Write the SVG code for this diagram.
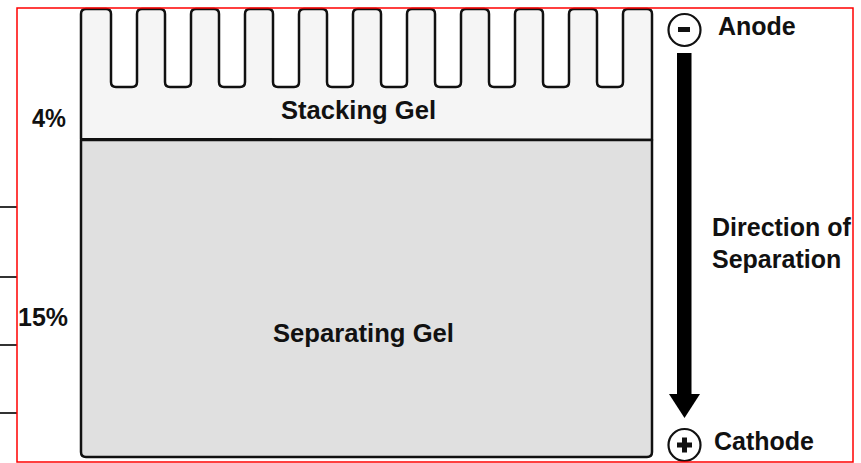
<svg xmlns="http://www.w3.org/2000/svg" width="861" height="463" viewBox="0 0 861 463">
  <style>
    .lbl { font-family: "Liberation Sans", Arial, sans-serif; font-weight: bold; font-size: 25px; fill: #111; }
    .gel { stroke: #111; stroke-width: 2.5; stroke-linejoin: round; }
    .tick { stroke: #333; stroke-width: 2; }
  </style>
  <rect x="0" y="0" width="861" height="463" fill="#fff"/>

  <g id="ticks">
    <line class="tick" x1="0" y1="207" x2="17" y2="207"/>
    <line class="tick" x1="0" y1="277" x2="17" y2="277"/>
    <line class="tick" x1="0" y1="345" x2="17" y2="345"/>
    <line class="tick" x1="0" y1="413" x2="17" y2="413"/>
  </g>

  <g id="stacking-gel">
    <path class="gel" fill="#f5f5f5" d="M81,139 V14 Q81,9 86,9
      H106 Q111,9 111,14 V82 Q111,87 116,87 H132 Q137,87 137,82 V14 Q137,9 142,9
      H160 Q165,9 165,14 V82 Q165,87 170,87 H186 Q191,87 191,82 V14 Q191,9 196,9
      H214 Q219,9 219,14 V82 Q219,87 224,87 H240 Q245,87 245,82 V14 Q245,9 250,9
      H268 Q273,9 273,14 V82 Q273,87 278,87 H294 Q299,87 299,82 V14 Q299,9 304,9
      H322 Q327,9 327,14 V82 Q327,87 332,87 H348 Q353,87 353,82 V14 Q353,9 358,9
      H376 Q381,9 381,14 V82 Q381,87 386,87 H402 Q407,87 407,82 V14 Q407,9 412,9
      H430 Q435,9 435,14 V82 Q435,87 440,87 H456 Q461,87 461,82 V14 Q461,9 466,9
      H484 Q489,9 489,14 V82 Q489,87 494,87 H510 Q515,87 515,82 V14 Q515,9 520,9
      H538 Q543,9 543,14 V82 Q543,87 548,87 H564 Q569,87 569,82 V14 Q569,9 574,9
      H592 Q597,9 597,14 V82 Q597,87 602,87 H618 Q623,87 623,82 V14 Q623,9 628,9
      H647 Q652,9 652,14 V140 Z"/>
    <text class="lbl" x="281" y="119" textLength="155" lengthAdjust="spacingAndGlyphs">Stacking Gel</text>
  </g>

  <g id="separating-gel">
    <path class="gel" fill="#e0e0e0" d="M81,140 H652 V452 Q652,457 647,457 H86 Q81,457 81,452 Z"/>
    <text class="lbl" x="273" y="342" textLength="181" lengthAdjust="spacingAndGlyphs">Separating Gel</text>
  </g>

  <g id="label-4">
    <text class="lbl" x="32" y="127" textLength="34" lengthAdjust="spacingAndGlyphs">4%</text>
  </g>
  <g id="label-15">
    <text class="lbl" x="18" y="326" textLength="50" lengthAdjust="spacingAndGlyphs">15%</text>
  </g>

  <g id="anode">
    <circle cx="684.5" cy="30" r="16" fill="#fff" stroke="#111" stroke-width="2.2"/>
    <rect x="678" y="27" width="12" height="5" fill="#111"/>
    <text class="lbl" x="718" y="35">Anode</text>
  </g>

  <g id="cathode">
    <circle cx="684.5" cy="445" r="16" fill="#fff" stroke="#111" stroke-width="2.2"/>
    <rect x="677" y="442.5" width="15" height="5" fill="#111"/>
    <rect x="682" y="437.5" width="5" height="15" fill="#111"/>
    <text class="lbl" x="714" y="450">Cathode</text>
  </g>

  <g id="connectors">
    <rect x="677" y="53" width="14.5" height="343" fill="#000"/>
    <polygon points="669,394 700,394 684.5,418" fill="#000"/>
  </g>

  <g id="direction-label">
    <text class="lbl" x="712" y="236">Direction of</text>
    <text class="lbl" x="712" y="268">Separation</text>
  </g>

  <rect id="frame" x="17" y="8" width="836" height="454" fill="none" stroke="#f00" stroke-width="1.5"/>
</svg>
